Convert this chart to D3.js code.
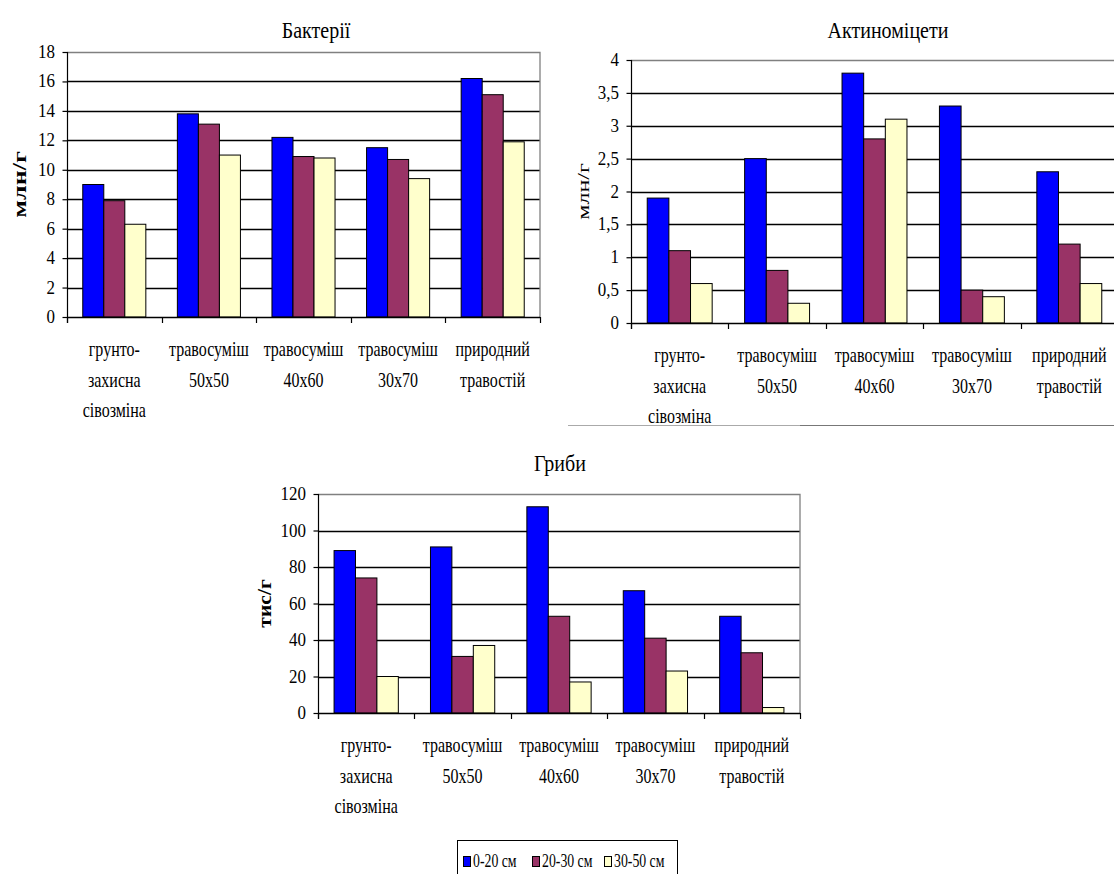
<!DOCTYPE html>
<html><head><meta charset="utf-8">
<script src="https://cdn.jsdelivr.net/npm/d3@7"></script>
<style>
body{margin:0;background:#fff}
svg{display:block}
</style>
</head><body>
<svg id="c" width="1114" height="874" font-family="'Liberation Serif', 'Times New Roman', serif"></svg>
<script>
// ---------- DATA ----------
const categories = [
  ["грунто-", "захисна", "сівозміна"],
  ["травосуміш", "50x50"],
  ["травосуміш", "40x60"],
  ["травосуміш", "30x70"],
  ["природний", "травостій"]
];
const seriesNames = ["0-20 см", "20-30 см", "30-50 см"];

const bacteria0_20  = [9.0, 13.8, 12.2, 11.5, 16.2];
const bacteria20_30 = [7.9, 13.1, 10.9, 10.7, 15.1];
const bacteria30_50 = [6.3, 11.0, 10.8, 9.4, 11.9];
const bacteriaTicks = [0, 2, 4, 6, 8, 10, 12, 14, 16, 18];

const actino0_20  = [1.9, 2.5, 3.8, 3.3, 2.3];
const actino20_30 = [1.1, 0.8, 2.8, 0.5, 1.2];
const actino30_50 = [0.6, 0.3, 3.1, 0.4, 0.6];
const actinoTicks = [0, 0.5, 1, 1.5, 2, 2.5, 3, 3.5, 4];

const fungi0_20  = [89, 91, 113, 67, 53];
const fungi20_30 = [74, 31, 53, 41, 33];
const fungi30_50 = [20, 37, 17, 23, 3];
const fungiTicks = [0, 20, 40, 60, 80, 100, 120];

// ---------- STYLE ----------
const colors = ["#0000FF", "#993366", "#FFFFCC"];
const FONT = "'Liberation Serif', 'Times New Roman', serif";
const svg = d3.select("#c");

function addText(g, str, x, y, o) {
  o = o || {};
  return g.append("text")
    .attr("transform", `translate(${x},${y})` + (o.rotate ? ` rotate(${o.rotate})` : "") + ` scale(${o.sx || 1},${o.sy || 1})`)
    .attr("text-anchor", o.anchor || "middle")
    .attr("font-family", FONT)
    .attr("font-size", o.size || 16)
    .attr("font-weight", o.weight || "normal")
    .attr("fill", "#000")
    .text(str);
}

function drawChart(cfg) {
  const g = svg.append("g");
  const seriesData = cfg.series;
  const yMax = cfg.ticks[cfg.ticks.length - 1];
  const x = d3.scaleBand().domain(d3.range(categories.length)).range([cfg.left, cfg.right]).padding(0);
  const xs = d3.scaleBand().domain(d3.range(seriesData.length)).range([0, x.bandwidth()]).paddingInner(0).paddingOuter(0.75);
  const y = d3.scaleLinear().domain([0, yMax]).range([cfg.bottom, cfg.top]);

  // gridlines
  g.selectAll("line.grid").data(cfg.ticks.filter(t => t > 0 && t < yMax)).join("line")
    .attr("x1", cfg.left).attr("x2", cfg.right)
    .attr("y1", d => Math.round(y(d)) + 0.5).attr("y2", d => Math.round(y(d)) + 0.5)
    .attr("stroke", "#000").attr("stroke-width", 1.3);
  // plot border top/right (gray)
  g.append("path")
    .attr("d", `M${cfg.left},${Math.round(y(yMax)) + 0.5}H${cfg.right}V${cfg.bottom}`)
    .attr("fill", "none").attr("stroke", "#808080").attr("stroke-width", 1.3);

  // bars
  seriesData.forEach((vals, si) => {
    g.selectAll(null).data(vals).join("rect")
      .attr("x", (d, i) => x(i) + xs(si))
      .attr("width", xs.bandwidth())
      .attr("y", d => y(d))
      .attr("height", d => y(0) - y(d))
      .attr("fill", colors[si])
      .attr("stroke", "#000").attr("stroke-width", 1);
  });

  // y axis ticks via d3 axis
  const yAxis = d3.axisLeft(y).tickValues(cfg.ticks).tickSize(5).tickFormat("");
  const ya = g.append("g").attr("transform", `translate(${cfg.left + 0.5},0)`).call(yAxis);
  ya.select(".domain").remove();
  ya.selectAll(".tick line").attr("stroke", "#000").attr("stroke-width", 1.2);
  g.append("line").attr("x1", cfg.left + 0.5).attr("x2", cfg.left + 0.5)
    .attr("y1", y(yMax)).attr("y2", cfg.bottom + 6).attr("stroke", "#000").attr("stroke-width", 1.2);
  cfg.ticks.forEach(t => {
    addText(g, cfg.fmt(t), cfg.left - 12, y(t) + 6, {anchor: "end", size: 17, sy: 1.12});
  });

  // x axis
  g.append("line").attr("x1", cfg.left).attr("x2", cfg.right)
    .attr("y1", cfg.bottom + 0.5).attr("y2", cfg.bottom + 0.5).attr("stroke", "#000").attr("stroke-width", 1.4);
  d3.range(categories.length + 1).forEach(i => {
    const xx = Math.round(cfg.left + i * x.step()) + 0.5;
    g.append("line").attr("x1", xx).attr("x2", xx).attr("y1", cfg.bottom).attr("y2", cfg.bottom + 6)
      .attr("stroke", "#000").attr("stroke-width", 1.2);
  });
  categories.forEach((lines, i) => {
    lines.forEach((ln, j) => {
      addText(g, ln, x(i) + x.bandwidth() / 2, cfg.bottom + 39 + j * 30.5, {size: 16, sy: 1.3});
    });
  });

  // title
  addText(g, cfg.title, cfg.titleX, cfg.titleY, {size: 20, sy: 1.2});
  // y title
  addText(g, cfg.yTitle, cfg.yTitleX, (cfg.top + cfg.bottom) / 2, {
    rotate: -90, size: cfg.yTitleSize, weight: cfg.yTitleWeight, sx: cfg.yTitleStretch, sy: 1
  });
}

const commaFmt = d => String(d).replace(".", ",");

drawChart({
  title: "Бактерії", yTitle: "млн/г", yTitleWeight: "bold", yTitleSize: 18, yTitleStretch: 1.45, yTitleX: 26,
  series: [bacteria0_20, bacteria20_30, bacteria30_50], ticks: bacteriaTicks, fmt: commaFmt,
  left: 67, right: 540, top: 52, bottom: 317, titleX: 316, titleY: 38
});
drawChart({
  title: "Актиноміцети", yTitle: "млн/г", yTitleWeight: "normal", yTitleSize: 16, yTitleStretch: 1.5, yTitleX: 589,
  series: [actino0_20, actino20_30, actino30_50], ticks: actinoTicks, fmt: commaFmt,
  left: 631, right: 1118, top: 60, bottom: 323, titleX: 888, titleY: 38
});
drawChart({
  title: "Гриби", yTitle: "тис/г", yTitleWeight: "bold", yTitleSize: 18, yTitleStretch: 1.2, yTitleX: 271,
  series: [fungi0_20, fungi20_30, fungi30_50], ticks: fungiTicks, fmt: commaFmt,
  left: 318, right: 800, top: 494, bottom: 713, titleX: 560, titleY: 471
});

// border line under the Актиноміцети chart
svg.append("line").attr("x1", 568).attr("x2", 800).attr("y1", 425.5).attr("y2", 425.5).attr("stroke", "#aaaaaa").attr("stroke-width", 1.2);
svg.append("line").attr("x1", 800).attr("x2", 1114).attr("y1", 425.5).attr("y2", 425.5).attr("stroke", "#777777").attr("stroke-width", 1.2);

// legend
const lg = svg.append("g");
lg.append("rect").attr("x", 457.5).attr("y", 840.5).attr("width", 220).attr("height", 45)
  .attr("fill", "#fff").attr("stroke", "#000").attr("stroke-width", 1);
const legendX = [463, 532, 604];
seriesNames.forEach((name, i) => {
  lg.append("rect").attr("x", legendX[i] + 0.5).attr("y", 856.5).attr("width", 7).attr("height", 10)
    .attr("fill", colors[i]).attr("stroke", "#000").attr("stroke-width", 1);
  addText(lg, name, legendX[i] + 10, 866.5, {anchor: "start", size: 15, sx: 0.92, sy: 1.3});
});
</script>
</body></html>
